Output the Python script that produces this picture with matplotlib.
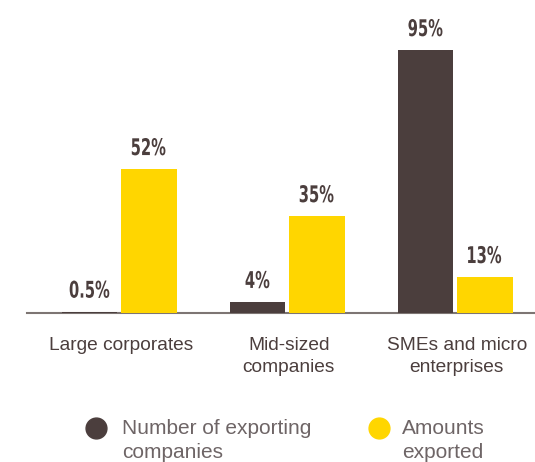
import numpy as np
import matplotlib
matplotlib.use("Agg")
import matplotlib.pyplot as plt
import matplotlib.transforms as mtransforms
from matplotlib.lines import Line2D
from matplotlib.textpath import TextPath
from matplotlib.patches import PathPatch
from matplotlib.font_manager import FontProperties

# --- dados ---
categorias = ["Large corporates", "Mid-sized\ncompanies", "SMEs and micro\nenterprises"]
n_empresas = [0.5, 4, 95]
valores_exportados = [52, 35, 13]
rotulos_empresas = ["0.5%", "4%", "95%"]
rotulos_valores = ["52%", "35%", "13%"]
legenda = ["Number of exporting\ncompanies", "Amounts\nexported"]

COR_ESCURA = "#4b3e3d"
COR_AMARELA = "#ffd600"
COR_TEXTO = "#4b3e3d"
COR_LEGENDA = "#6e6566"

fig = plt.figure(figsize=(5.35, 4.62), dpi=100)
ax = fig.add_axes([27 / 535, 149 / 462, 508 / 535, 313 / 462])

x = np.arange(len(categorias))
largura = 0.333
desloc = 0.176

b1 = ax.bar(x - desloc, n_empresas, largura, color=COR_ESCURA, zorder=3)
b2 = ax.bar(x + desloc, valores_exportados, largura, color=COR_AMARELA, zorder=3)

ax.set_xlim(-0.548, 2.476)
ax.set_ylim(0, 313 / 2.768)

# rótulos de valor em negrito "condensado": caminho do texto comprimido na horizontal
prop_valor = FontProperties(family="DejaVu Sans", weight="bold")
TAM_PX = 23
COMPRESSAO = 0.64
for barras, rotulos in ((b1, rotulos_empresas), (b2, rotulos_valores)):
    for b, r in zip(barras, rotulos):
        tp = TextPath((0, 0), r, size=TAM_PX, prop=prop_valor)
        ext = tp.get_extents()
        base = mtransforms.Affine2D().translate(-(ext.x0 + ext.x1) / 2, 0) \
            .scale(COMPRESSAO, 1).translate(0, 14)
        pos = mtransforms.ScaledTranslation(b.get_x() + b.get_width() / 2, b.get_height(),
                                            ax.transData)
        ax.add_patch(PathPatch(tp, facecolor=COR_TEXTO, edgecolor="none",
                               transform=base + pos, clip_on=False))

for lado in ("top", "right", "left"):
    ax.spines[lado].set_visible(False)
ax.spines["bottom"].set_color("#7d7573")
ax.spines["bottom"].set_linewidth(1.5)
ax.spines["bottom"].set_zorder(1)
ax.set_yticks([])
ax.set_xticks(x + 0.01)
ax.set_xticklabels(categorias, fontsize=13.8, color=COR_TEXTO,
                   family="Liberation Sans", linespacing=1.42)
ax.tick_params(axis="x", length=0, pad=17)

# legenda: círculo + texto de duas linhas
for (cx, tx), cor, texto in zip(((96, 122), (379, 402)), (COR_ESCURA, COR_AMARELA), legenda):
    fig.add_artist(Line2D([cx / 535], [1 - 428 / 462], marker="o", ls="", markersize=15,
                          color=cor, transform=fig.transFigure))
    fig.text(tx / 535, 1 - 419 / 462, texto, ha="left", va="top", fontsize=15,
             family="Liberation Sans", color=COR_LEGENDA, linespacing=1.36)

fig.savefig("out.png", dpi=100)
